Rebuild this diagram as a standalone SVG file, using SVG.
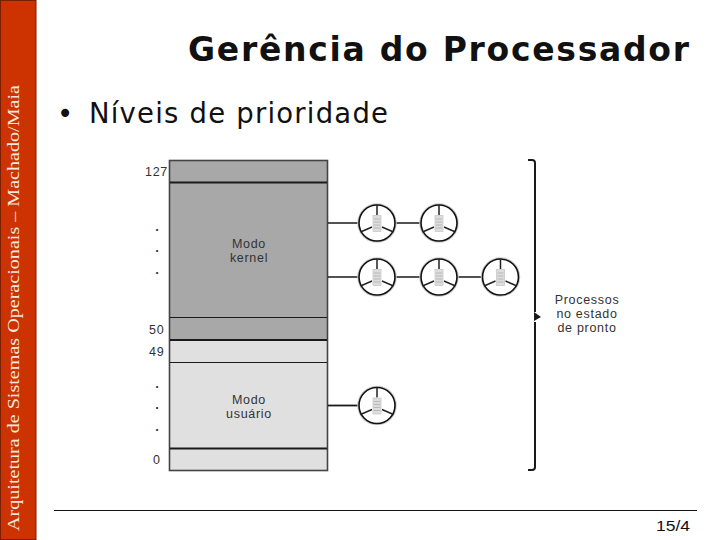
<svg xmlns="http://www.w3.org/2000/svg" width="720" height="540" viewBox="0 0 720 540">
<defs>
<style>
.lbl{font-family:"Liberation Sans",Arial,sans-serif;font-size:12.5px;fill:#333;letter-spacing:.7px}
.dot{font-family:"Liberation Sans",Arial,sans-serif;font-size:13px;font-weight:700;fill:#333;text-anchor:middle}
.c{text-anchor:middle}
.ln{stroke:#1a1a1a;fill:none}
</style>
<g id="proc">
<circle r="18.500" fill="none" stroke="#ccc" stroke-width="2.500"/>
<circle r="18" fill="#fff" stroke="#111" stroke-width="1.600"/>
<path d="M0-18V-8M5 4 16.500 9M-5 4-16.500 9" stroke="#222" stroke-width="1.500" fill="none"/>
<rect x="-4" y="-7.500" width="8" height="16" fill="#ddd" stroke="#c4c4c4" stroke-width=".7"/>
<path d="M-3-4H3M-3-1H3M-3 2H3M-3 5H3" stroke="#b0b0b0" stroke-width=".8"/>
</g>
</defs>
<rect width="720" height="540" fill="#fff"/>
<g id="sidebar">
<rect x=".5" y=".5" width="35.500" height="539" fill="#cc3300" stroke="#7a1f00"/>
<text transform="translate(18.500 531) rotate(-90)" font-family="Liberation Serif,Times New Roman,serif" font-size="16.500" fill="#f4e8df" textLength="446" lengthAdjust="spacingAndGlyphs">Arquitetura de Sistemas Operacionais – Machado/Maia</text>
</g>
<text id="title" x="188" y="61" font-family="DejaVu Sans,sans-serif" font-weight="700" font-size="33" fill="#111" textLength="501" lengthAdjust="spacing">Gerência do Processador</text>
<g id="bullet" font-family="DejaVu Sans,sans-serif" font-size="27.500" fill="#111">
<text x="57" y="123">•</text>
<text x="89" y="123" textLength="299" lengthAdjust="spacing">Níveis de prioridade</text>
</g>
<g id="stack">
<rect x="169.500" y="160.500" width="158" height="180" fill="#a8a8a8"/>
<rect x="169.500" y="340" width="158" height="130.500" fill="#e0e0e0"/>
<rect x="169.500" y="160.500" width="158" height="310" fill="none" stroke="#444" stroke-width="1.600"/>
<path class="ln" stroke-width="2" d="M170 182.500H327M170 340H327M170 448.500H327"/>
<path class="ln" stroke-width="1.200" d="M170 317.500H327M170 362.500H327"/>
</g>
<g id="labels">
<text class="lbl" x="145" y="176">127</text>
<text class="lbl" x="149" y="334">50</text>
<text class="lbl" x="149" y="356">49</text>
<text class="lbl" x="153" y="464">0</text>
<text class="dot" x="157" y="231">.</text>
<text class="dot" x="157" y="252">.</text>
<text class="dot" x="157" y="274">.</text>
<text class="dot" x="157" y="388">.</text>
<text class="dot" x="157" y="409">.</text>
<text class="dot" x="157" y="431">.</text>
</g>
<g id="modo-kernel"><text class="lbl c" x="249" y="248">Modo</text><text class="lbl c" x="249" y="262">kernel</text></g>
<g id="modo-usuario"><text class="lbl c" x="249" y="404">Modo</text><text class="lbl c" x="249" y="418">usuário</text></g>
<g id="connectors">
<path class="ln" stroke-width="1.500" d="M328 223H359M395 223H421M328 277H359M395 277H421M457 277H482"/>
<path class="ln" stroke-width="1.800" d="M328 405.500H359"/>
</g>
<g id="p1"><use href="#proc" x="377" y="223"/></g>
<g id="p2"><use href="#proc" x="439" y="223"/></g>
<g id="p3"><use href="#proc" x="377" y="277"/></g>
<g id="p4"><use href="#proc" x="439" y="277"/></g>
<g id="p5"><use href="#proc" x="500.500" y="277"/></g>
<g id="p6"><use href="#proc" x="377" y="405.500"/></g>
<g id="brace">
<path class="ln" stroke-width="2" d="M528 160H532Q535 160 535 163V312M535 322V467Q535 470 532 470H528"/>
<path d="M534 312 541 317 534 321Z" fill="#1a1a1a"/>
</g>
<g id="processos">
<text class="lbl c" x="587" y="304">Processos</text>
<text class="lbl c" x="587" y="318">no estado</text>
<text class="lbl c" x="587" y="332">de pronto</text>
</g>
<g id="footer">
<path d="M54 510.500H697" stroke="#111" stroke-width="1"/>
<text x="656" y="531" font-family="Liberation Sans,sans-serif" font-size="15" fill="#111" textLength="34" lengthAdjust="spacingAndGlyphs">15/4</text>
</g>
</svg>
